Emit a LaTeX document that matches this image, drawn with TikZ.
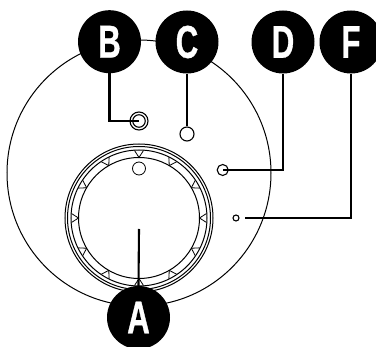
\documentclass[tikz,border=0pt]{standalone}
\usepackage{fontspec}
\newfontfamily\lblfont[FakeStretch=0.68,FakeBold=0.7]{Liberation Sans Bold}
\tikzset{
  badge/.style={circle,fill=black,draw=none,minimum size=63pt,inner sep=0pt,text=white,font=\lblfont\fontsize{46}{46}\selectfont},
  lead/.style={draw=black,line width=2.1pt,line join=miter},
  ring/.style={draw=black,line width=1pt,fill=none},
  port/.style={circle,draw=black,line width=1.1pt,fill=white,inner sep=0pt},
}
\begin{document}
\begin{tikzpicture}[x=1pt,y=-1pt]
\useasboundingbox (0,0) rectangle (376,347);
\draw[line width=1pt] (139,173) ellipse [x radius=132pt,y radius=133pt];
% knob
\foreach \r in {74,71.5,68,60.5} \draw[ring] (139,218) circle [radius=\r pt];
\foreach \a in {0,30,...,330}
  \draw[line width=.8pt,rotate around={\a:(139,218)}] (134.5,218-67.5) -- (139,218-60.5) -- (143.5,218-67.5);
\node[port,minimum size=13pt,line width=.8pt] (knobdot) at (139,168.5) {};
\coordinate (knobend) at (139,229);
% ports
\node[port,minimum size=18pt] (bouter) at (139,121) {};
\node[port,minimum size=12.5pt] (binner) at (139,121) {};
\node[port,minimum size=14pt] (cport) at (187,134) {};
\node[port,minimum size=11pt] (dport) at (222.7,170) {};
\node[port,minimum size=6pt] (fport) at (236,218) {};
\coordinate (flead) at (244.5,218);
% badges
\node[badge] (A) at (138.5,317.5) {A};
\node[badge] (B) at (109.5,41.7) {B};
\node[badge] (C) at (187,42) {C};
\node[badge] (D) at (283,42) {D};
\node[badge] (F) at (351,42) {F};
% leaders
\draw[lead] (A.north) -- (knobend);
\draw[lead] (B.south) |- (binner.center);
\draw[lead] (C.south) -- (cport.north);
\draw[lead] (D.south) |- (dport.center);
\draw[lead] (F.south) |- (flead);
\end{tikzpicture}
\end{document}
